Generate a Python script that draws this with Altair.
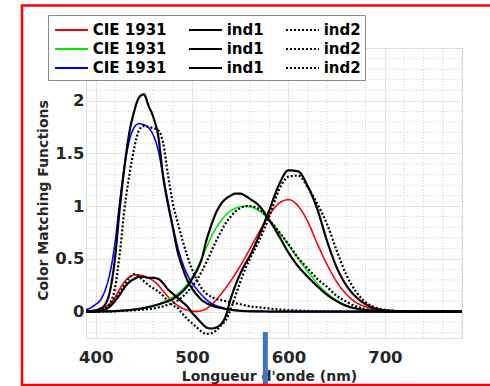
import altair as alt
import pandas as pd

# wavelengths (nm)
WL = [390, 395, 400, 405, 410, 415, 420, 425, 430, 435, 440, 445, 450, 455, 460, 465, 470,
      475, 480, 485, 490, 495, 500, 505, 510, 515, 520, 525, 530, 535, 540, 545, 550, 555, 560,
      570, 580, 590, 600, 610, 620, 630, 640, 650, 660, 670, 680, 690, 700, 710, 720, 730, 740,
      750, 760, 770, 780]

# CIE 1931 colour matching functions
CIE_X = [.0042, .0077, .0143, .0232, .0435, .0776, .1344, .2148, .2839, .3285, .3483, .3481, .3362,
         .3187, .2908, .2511, .1954, .1421, .0956, .0580, .0320, .0147, .0049, .0024, .0093, .0291,
         .0633, .1096, .1655, .2257, .2904, .3597, .4334, .5121, .5945,
         .7621, .9163, 1.0263, 1.0622, 1.0026, .8544, .6424, .4479, .2835, .1649, .0874, .0468,
         .0227, .0114, .0058, .0029, .0014, .0007, .0003, .0002, .0001, .0000]
CIE_Y = [.0001, .0002, .0004, .0006, .0012, .0022, .0040, .0073, .0116, .0168, .0230, .0298, .0380,
         .0480, .0600, .0739, .0910, .1126, .1390, .1693, .2080, .2586, .3230, .4073, .5030, .6082,
         .7100, .7932, .8620, .9149, .9540, .9803, .9950, 1.0000, .9950,
         .9520, .8700, .7570, .6310, .5030, .3810, .2650, .1750, .1070, .0610, .0320, .0170,
         .0082, .0041, .0021, .0010, .0005, .0002, .0001, .0001, .0000, .0000]
CIE_Z = [.0201, .0362, .0679, .1102, .2074, .3713, .6456, 1.0391, 1.3856, 1.6230, 1.7471, 1.7826,
         1.7721, 1.7441, 1.6692, 1.5281, 1.2876, 1.0419, .8130, .6162, .4652, .3533, .2720, .2123,
         .1582, .1117, .0783, .0573, .0422, .0298, .0203, .0134, .0088, .0058, .0039,
         .0021, .0017, .0011, .0008, .0003, .0002, 0, 0, 0, 0, 0, 0, 0, 0, 0, 0, 0, 0, 0, 0, 0, 0]

# individual 1 (solid black)
IND1_X = [0, 0, .003, .008, .02, .05, .1, .16, .23, .28, .31, .33, .33, .32, .32, .31, .27, .21, .17,
          .13, .09, .05, -.01, -.06, -.11, -.15, -.16, -.15, -.12, -.04, .12, .25, .36, .45, .53,
          .73, .96, 1.2, 1.34, 1.33, 1.19, .97, .67, .42, .25, .14, .07, .03, .013, .006, .003,
          .001, 0, 0, 0, 0, 0]
IND1_Y = [0, 0, .0005, .001, .002, .003, .005, .008, .011, .015, .02, .026, .034, .044, .055, .068,
          .083, .1, .12, .15, .19, .24, .31, .39, .5, .68, .82, .94, 1.02, 1.07, 1.1, 1.12, 1.12,
          1.1, 1.07,
          1.0, .87, .72, .56, .43, .33, .24, .16, .1, .055, .03, .015, .007, .003, .001, 0, 0, 0,
          0, 0, 0, 0]
IND1_Z = [.003, .006, .012, .03, .07, .2, .5, .98, 1.38, 1.7, 1.9, 2.03, 2.06, 1.95, 1.84, 1.66,
          1.28, 1.02, .8, .57, .42, .3, .22, .16, .11, .08, .06, .045, .035, .025, .018, .012, .008,
          .005, .003,
          .002, .001, 0, 0, 0, 0, 0, 0, 0, 0, 0, 0, 0, 0, 0, 0, 0, 0, 0, 0, 0, 0]

# individual 2 (dotted black)
IND2_X = [0, .001, .003, .01, .03, .07, .12, .18, .26, .32, .355, .33, .29, .25, .22, .19, .15, .1,
          .06, .035, -.02, -.07, -.11, -.15, -.19, -.21, -.205, -.18, -.13, -.08, .02, .15, .28,
          .4, .5,
          .68, .9, 1.15, 1.28, 1.29, 1.18, 1.02, .83, .58, .35, .19, .09, .04, .017, .008, .003,
          .001, 0, 0, 0, 0, 0]
IND2_Y = [0, 0, 0, .001, .002, .003, .004, .006, .008, .01, .013, .016, .02, .025, .03, .04, .05,
          .065, .08, .105, .14, .185, .24, .3, .38, .47, .57, .67, .76, .84, .9, .95, .98, 1.0, 1.0,
          .97, .87, .76, .64, .51, .41, .31, .235, .15, .095, .05, .025, .012, .005, .002, .001,
          0, 0, 0, 0, 0, 0]
IND2_Z = [.002, .004, .008, .015, .03, .08, .22, .55, .98, 1.3, 1.55, 1.72, 1.76, 1.75, 1.74, 1.72,
          1.6, 1.3, 1.03, .85, .68, .53, .4, .3, .22, .17, .14, .12, .11, .1, .09, .08, .07, .06, .05,
          .04, .03, .02, .015, .01, .007, .005, .003, .002, .001, 0, 0, 0, 0, 0, 0, 0, 0, 0, 0, 0, 0]

# legend order (filled column by column: CIE column, ind1 column, ind2 column)
KEYS = ["x_cie", "y_cie", "z_cie", "x_ind1", "y_ind1", "z_ind1", "x_ind2", "y_ind2", "z_ind2"]
COLORS = ["#ff0000", "#00ee00", "#0000ff", "#000000", "#000000", "#000000",
          "#000000", "#000000", "#000000"]
DASHES = [[1, 0]] * 6 + [[2, 2]] * 3

X_MAJOR = [400, 500, 600, 700]
X_MINOR = [420, 440, 460, 480, 520, 540, 560, 580, 620, 640, 660, 680, 720, 740, 760, 780]
Y_MAJOR = [0, 0.5, 1, 1.5, 2]
Y_MINOR = [-0.2, -0.1, 0.1, 0.2, 0.3, 0.4, 0.6, 0.7, 0.8, 0.9, 1.1, 1.2, 1.3, 1.4, 1.6, 1.7,
           1.8, 1.9, 2.1, 2.2, 2.3, 2.4]
MARKER_WL = [576]

series = {"x_cie": CIE_X, "y_cie": CIE_Y, "z_cie": CIE_Z,
          "x_ind1": IND1_X, "y_ind1": IND1_Y, "z_ind1": IND1_Z,
          "x_ind2": IND2_X, "y_ind2": IND2_Y, "z_ind2": IND2_Z}
rows = []
for k in KEYS:
    for w, v in zip(WL, series[k]):
        rows.append({"wl": w, "val": v, "key": k})
df = pd.DataFrame(rows)

FONT = "DejaVu Sans"
TXT = "#262626"

xs = alt.Scale(domain=[390, 780], nice=False, zero=False)
ys = alt.Scale(domain=[-0.25, 2.5], nice=False, zero=False)

LEG = alt.Legend(
    orient="none", legendX=-38, legendY=-33, columns=3, title=None, gridAlign="none",
    symbolType="M-1.65,0H1.65", symbolSize=400, symbolStrokeWidth=2, symbolOffset=8.5,
    labelFont=FONT, labelFontSize=15, labelFontWeight="bold", labelColor="black",
    labelOffset=10.2, labelLimit=0, columnPadding=18, rowPadding=0, padding=4,
    fillColor="white", strokeColor="#8a8a8a",
    labelExpr="indexof(datum.label, 'cie') >= 0 ? 'CIE 1931' : (indexof(datum.label, 'ind1') >= 0 ? 'ind1' : 'ind2')",
)

color = alt.Color("key:N", scale=alt.Scale(domain=KEYS, range=COLORS), legend=LEG)
dash = alt.StrokeDash("key:N", scale=alt.Scale(domain=KEYS, range=DASHES), legend=LEG)

xaxis = alt.Axis(values=X_MAJOR, format="d", grid=True, gridColor="#e4e4e4", gridWidth=1,
                 ticks=False, domain=False, labelFont=FONT, labelFontSize=16.5,
                 labelFontWeight="bold", labelColor=TXT, labelPadding=11,
                 title="Longueur d'onde (nm)", titleFont=FONT, titleFontSize=14,
                 titleFontWeight="bold", titleColor=TXT, titleX=183, titleY=42,
                 titleBaseline="alphabetic", titleAlign="center")
yaxis = alt.Axis(values=Y_MAJOR, format="~g", grid=True, gridColor="#e4e4e4", gridWidth=1,
                 ticks=False, domain=False, labelFont=FONT, labelFontSize=16.5,
                 labelFontWeight="bold", labelColor=TXT, labelPadding=2,
                 title="Color Matching Functions", titleFont=FONT, titleFontSize=14,
                 titleFontWeight="bold", titleColor=TXT, titleAngle=270, titleX=-39,
                 titleY=152, titleBaseline="alphabetic", titleAlign="center")

minor_x = alt.Chart(pd.DataFrame({"wl": X_MINOR})).mark_rule(
    color="#c8c8c8", strokeWidth=0.8, strokeDash=[1, 2]).encode(
    x=alt.X("wl:Q", scale=xs, axis=xaxis))
minor_y = alt.Chart(pd.DataFrame({"val": Y_MINOR})).mark_rule(
    color="#c8c8c8", strokeWidth=0.8, strokeDash=[1, 2]).encode(
    y=alt.Y("val:Q", scale=ys, axis=yaxis))

base = alt.Chart(df)


def line_layer(suffix, width):
    return base.transform_filter(
        f"indexof(datum.key, '{suffix}') >= 0"
    ).mark_line(strokeWidth=width, clip=True, interpolate="monotone").encode(
        x=alt.X("wl:Q", scale=xs, axis=xaxis),
        y=alt.Y("val:Q", scale=ys, axis=yaxis),
        color=color, strokeDash=dash, detail="key:N",
    )


cie = line_layer("cie", 1.6)
ind1 = line_layer("ind1", 2.2)
ind2 = line_layer("ind2", 2.2)

marker = alt.Chart(pd.DataFrame({"wl": MARKER_WL})).mark_rule(
    color="#4472c4", strokeWidth=5, clip=False).encode(
    x=alt.X("wl:Q", scale=xs, axis=xaxis), y=alt.value(284), y2=alt.value(340))

frame = alt.Chart(pd.DataFrame({"a": [0]})).mark_rect(
    fillOpacity=0, stroke="#ff0000", strokeWidth=2.5, clip=False).encode(
    x=alt.value(-64), x2=alt.value(440), y=alt.value(-42.5), y2=alt.value(337))

chart = alt.layer(minor_x, minor_y, cie, ind1, ind2, marker, frame).properties(
    width=376, height=290,
    padding={"left": 86, "top": 48, "right": 28, "bottom": 48},
    autosize=alt.AutoSizeParams(type="none"),
).configure_view(stroke="#9a9a9a", strokeWidth=1.2).configure(background="white")

chart.save("out.html", embed_options={"renderer": "svg", "actions": False})
